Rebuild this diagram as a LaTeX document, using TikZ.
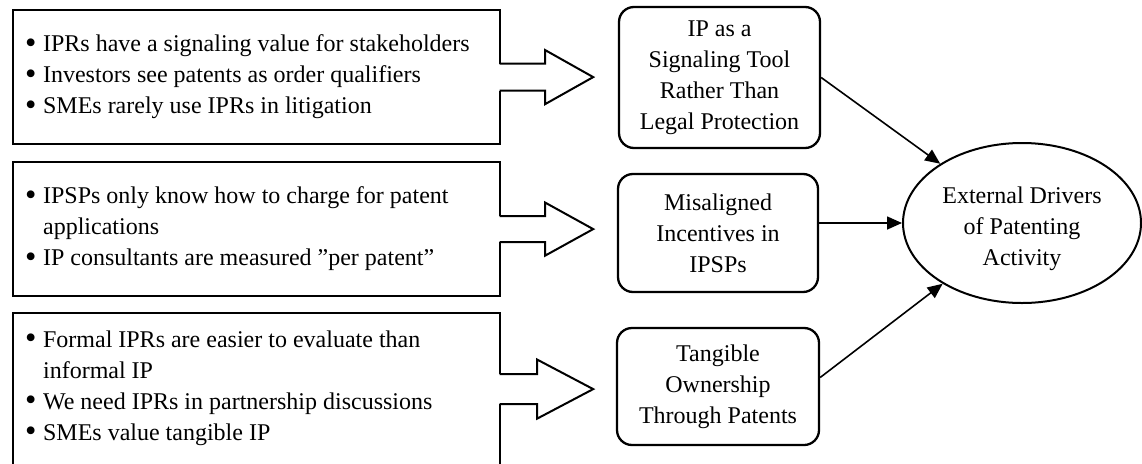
\documentclass[tikz,border=0pt]{standalone}
\usepackage{fontspec}
\usepackage{graphicx}
\setmainfont{Liberation Serif}
\usetikzlibrary{shapes.geometric,arrows.meta,calc}

% bullet with a hanging indent
\newcommand\bul{\makebox[18pt][l]{\raisebox{-1.5pt}{\scalebox{1.35}{\textbullet}}}}
\newcommand\hang{\hspace*{18pt}}

% block arrow leaving the right side of a box:
% #1 box, #2 shaft length, #3 head length, #4 shaft half height, #5 head half height, #6 vertical offset
\newcommand\fatarrow[6]{%
  \coordinate (fa) at ($(#1.east)+(-1.5,#6)$);
  \fill[white] ($(fa)+(-2.5,-#4)$) rectangle ($(fa)+(#2,#4)$);
  \draw[fatline] ($(fa)+(0,-#4)$) -- ++(#2,0) -- ++(0,{#4-#5}) -- ++(#3,#5)
     -- ++(-#3,#5) -- ++(0,{#4-#5}) -- ++(-#2,0);
}

\tikzset{
  every node/.style={font=\fontsize{24}{31}\selectfont},
  quotebox/.style={draw, line width=2.2pt, rectangle, anchor=north west,
    minimum width=487pt, text width=463pt, inner xsep=12pt, align=flush left},
  theme/.style={draw, line width=2.3pt, rectangle, rounded corners=15pt,
    inner sep=0pt, align=center},
  fatline/.style={line width=2pt, miter limit=20},
  link/.style={line width=1.6pt, -{Triangle[length=15pt,width=13pt]}},
}

\begin{document}
\begin{tikzpicture}[x=1pt,y=-1pt]
\useasboundingbox (0,0) rectangle (1142,463);

% quotation boxes
\node[quotebox, minimum height=134pt] (q1) at (12,9)
  {\bul IPRs have a signaling value for stakeholders\\
   \bul Investors see patents as order qualifiers\\
   \bul SMEs rarely use IPRs in litigation};
\node[quotebox, minimum height=134pt] (q2) at (12,161)
  {\bul IPSPs only know how to charge for patent\\
   \hang applications\\
   \bul IP consultants are measured ”per patent”};
\node[quotebox, minimum height=158pt] (q3) at (12,312)
  {\bul Formal IPRs are easier to evaluate than\\
   \hang informal IP\\
   \bul We need IPRs in partnership discussions\\
   \bul SMEs value tangible IP\rule[-13pt]{0pt}{0pt}};

\fatarrow{q1}{45.5}{48}{13.5}{27}{0}
\fatarrow{q2}{45.5}{48}{13}{26.5}{0}
\fatarrow{q3}{37.5}{56}{15}{29.5}{-3}

% themes
\node[theme, minimum width=201pt, minimum height=141pt] (t1) at (719.5,77.5)
  {IP as a\\Signaling Tool\\Rather Than\\Legal Protection};
\node[theme, minimum width=200pt, minimum height=118pt] (t2) at (718,233)
  {Misaligned\\Incentives in\\IPSPs};
\node[theme, minimum width=202pt, minimum height=117pt] (t3) at (718,386.5)
  {Tangible\\Ownership\\Through Patents};

% aggregate dimension
\node[draw, ellipse, line width=2pt, minimum width=238pt, minimum height=160pt,
  inner sep=0pt, align=center] (ed) at (1022,223)
  {\rule{0pt}{29pt}External Drivers\\of Patenting\\Activity};

\draw[link] (t1.east) -- (ed);
\draw[link] (t2.east |- ed.west) -- (ed.west);
\draw[link] ($(t3.east)+(0,-9)$) -- (ed);
\end{tikzpicture}
\end{document}
